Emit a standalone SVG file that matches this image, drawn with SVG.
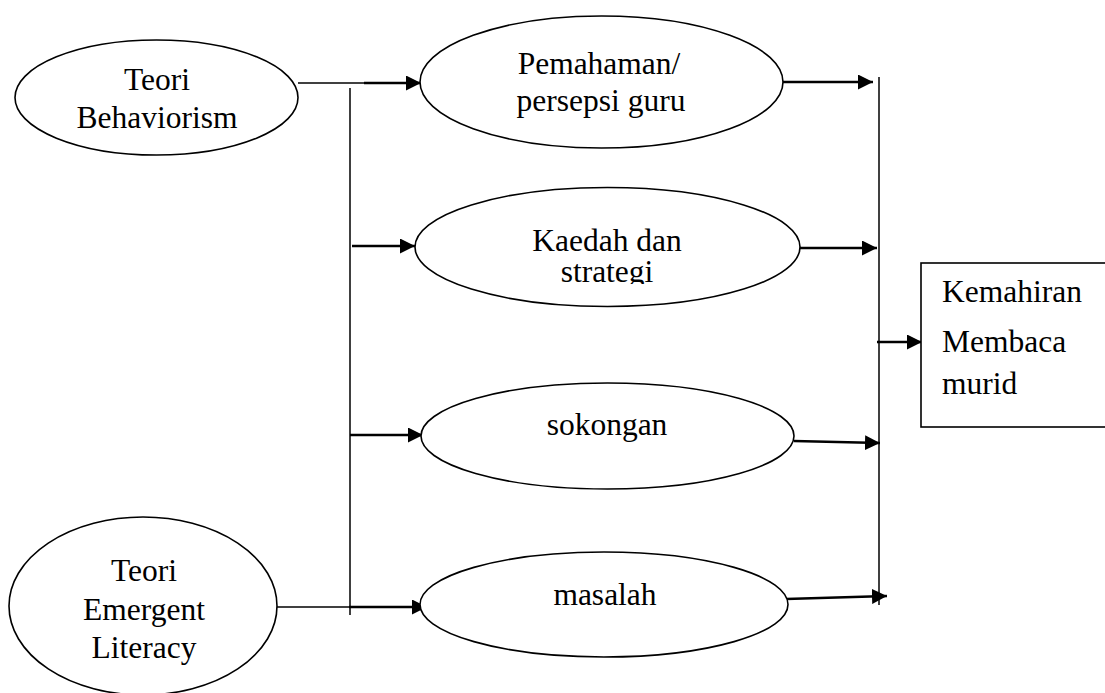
<svg xmlns="http://www.w3.org/2000/svg" width="1105" height="693" viewBox="0 0 1105 693">
  <style>
    .node { fill: #ffffff; stroke: #000000; stroke-width: 1.6; }
    .lbl { font-family: "Liberation Serif", "Times New Roman", serif; font-size: 31.5px; fill: #000000; }
    .mid { text-anchor: middle; }
    .thin { fill: none; stroke: #000000; stroke-width: 1.5; }
    .arr { fill: none; stroke: #000000; stroke-width: 2.4; marker-end: url(#ah); }
  </style>
  <defs>
    <marker id="ah" markerUnits="userSpaceOnUse" markerWidth="16" markerHeight="15" refX="15" refY="7.5" orient="auto">
      <path d="M0,0 L15,7.5 L0,15 z" fill="#000000"/>
    </marker>
    <clipPath id="kclip">
      <rect x="400" y="180" width="420" height="104"/>
    </clipPath>
  </defs>
  <rect width="1105" height="693" fill="#ffffff"/>

  <g id="connectors">
    <path class="thin" d="M298,83 H366"/>
    <path class="arr" d="M364,83 H421"/>
    <path class="thin" d="M350,88 V615"/>
    <path class="arr" d="M352,246 H415"/>
    <path class="arr" d="M350,435 H423"/>
    <path class="thin" d="M277,607 H351"/>
    <path class="arr" d="M349,607 H427"/>
    <path class="arr" d="M783,82 H873"/>
    <path class="arr" d="M800,248 H877"/>
    <path class="arr" d="M794,441 L880,443"/>
    <path class="arr" d="M786,599 L887,596"/>
    <path class="thin" d="M879,77 V605"/>
    <path class="arr" d="M877,342 H922"/>
  </g>

  <g id="behaviorism">
    <ellipse class="node" cx="156.5" cy="97.5" rx="141.5" ry="57.5"/>
    <text class="lbl mid" x="157" y="90">Teori</text>
    <text class="lbl mid" x="157" y="128">Behaviorism</text>
  </g>

  <g id="emergent">
    <ellipse class="node" cx="143" cy="606" rx="134" ry="89"/>
    <text class="lbl mid" x="144" y="581">Teori</text>
    <text class="lbl mid" x="144" y="620">Emergent</text>
    <text class="lbl mid" x="144" y="658">Literacy</text>
  </g>

  <g id="pemahaman">
    <ellipse class="node" cx="601.5" cy="82" rx="181.5" ry="66"/>
    <text class="lbl mid" x="599" y="74">Pemahaman/</text>
    <text class="lbl mid" x="601" y="111">persepsi guru</text>
  </g>

  <g id="kaedah">
    <ellipse class="node" cx="607.5" cy="247" rx="192.5" ry="59.5"/>
    <text class="lbl mid" x="607" y="251">Kaedah dan</text>
    <text class="lbl mid" x="607" y="282" clip-path="url(#kclip)">strategi</text>
  </g>

  <g id="sokongan">
    <ellipse class="node" cx="607.5" cy="436" rx="186.5" ry="53"/>
    <text class="lbl mid" x="607" y="435">sokongan</text>
  </g>

  <g id="masalah">
    <ellipse class="node" cx="604" cy="604.5" rx="184" ry="52.5"/>
    <text class="lbl mid" x="605" y="605">masalah</text>
  </g>

  <g id="kemahiran">
    <rect class="node" x="921" y="263" width="190" height="164"/>
    <text class="lbl" x="942" y="302">Kemahiran</text>
    <text class="lbl" x="942" y="352">Membaca</text>
    <text class="lbl" x="942" y="394">murid</text>
  </g>
</svg>
